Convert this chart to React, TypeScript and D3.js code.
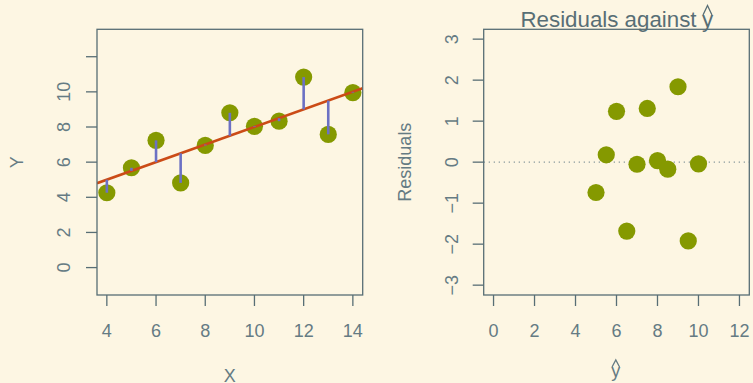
import React from "react";
import * as d3 from "d3";

// Anscombe's first data set
const xValues = [10, 8, 13, 9, 11, 14, 6, 4, 12, 7, 5];
const yValues = [8.04, 6.95, 7.58, 8.81, 8.33, 9.96, 7.24, 4.26, 10.84, 4.82, 5.68];

const leftXTicks = [4, 6, 8, 10, 12, 14];
const leftYTicks = [0, 2, 4, 6, 8, 10, 12];
const leftYLabels = ["0", "2", "4", "6", "8", "10", ""];
const rightXTicks = [0, 2, 4, 6, 8, 10, 12];
const rightYTicks = [-3, -2, -1, 0, 1, 2, 3];

const W = 753;
const H = 383;
const BG = "#fdf6e3";
const AXIS = "#586e75";
const TEXT = "#657b83";
const POINT = "#859900";
const FIT = "#cb4b16";
const RESID = "#6c71c4";
const FONT = "'Liberation Sans', Arial, sans-serif";
const FS = 18;
const TITLE_FS = 22.3;

// least-squares fit y = a + b x
const mx = d3.mean(xValues) as number;
const my = d3.mean(yValues) as number;
const sxy = d3.sum(xValues, (x, i) => (x - mx) * (yValues[i] - my));
const sxx = d3.sum(xValues, (x) => (x - mx) * (x - mx));
const slope = sxy / sxx;
const intercept = my - slope * mx;
const fitted = xValues.map((x) => intercept + slope * x);
const residuals = yValues.map((y, i) => y - fitted[i]);

const padded = (lo: number, hi: number): [number, number] => {
  const e = (hi - lo) * 0.04;
  return [lo - e, hi + e];
};

const leftBox = { x0: 97, x1: 362.7, y0: 29.3, y1: 295 };
const rightBox = { x0: 483.7, x1: 749.3, y0: 29.3, y1: 295 };

const lx = d3.scaleLinear().domain(padded(4, 14)).range([leftBox.x0, leftBox.x1]);
const ly = d3.scaleLinear().domain(padded(-1, 13)).range([leftBox.y1, leftBox.y0]);
const rx = d3.scaleLinear().domain(padded(0, 12)).range([rightBox.x0, rightBox.x1]);
const ry = d3.scaleLinear().domain(padded(-3, 3)).range([rightBox.y1, rightBox.y0]);

const fmt = (v: number) => (v < 0 ? "\u2212" + Math.abs(v) : String(v));

function Hat({ cx, top, w, h, color }: { cx: number; top: number; w: number; h: number; color: string }) {
  return (
    <path
      d={`M${cx - w / 2},${top + h} L${cx},${top} L${cx + w / 2},${top + h}`}
      fill="none"
      stroke={color}
      strokeWidth={1.3}
    />
  );
}

function Box({ b }: { b: typeof leftBox }) {
  return (
    <rect
      x={b.x0}
      y={b.y0}
      width={b.x1 - b.x0}
      height={b.y1 - b.y0}
      fill="none"
      stroke={AXIS}
      strokeWidth={1.3}
    />
  );
}

export default function App() {
  const fitLine = d3
    .line<number>()
    .x((x) => lx(x))
    .y((x) => ly(intercept + slope * x));
  const [dx0, dx1] = lx.domain();

  return (
    <div style={{ position: "fixed", left: 0, top: 0, width: W, height: H }}>
      <svg width={W} height={H} style={{ display: "block" }} fontFamily={FONT}>
        <rect width={W} height={H} fill={BG} />
        <defs>
          <clipPath id="leftClip">
            <rect x={leftBox.x0} y={leftBox.y0} width={leftBox.x1 - leftBox.x0} height={leftBox.y1 - leftBox.y0} />
          </clipPath>
          <clipPath id="rightClip">
            <rect x={rightBox.x0} y={rightBox.y0} width={rightBox.x1 - rightBox.x0} height={rightBox.y1 - rightBox.y0} />
          </clipPath>
        </defs>

        {/* Left panel: scatter with fitted line */}
        <g>
          {xValues.map((x, i) => (
            <circle key={i} cx={lx(x)} cy={ly(yValues[i])} r={8.6} fill={POINT} />
          ))}
          <path
            d={fitLine([dx0, dx1]) as string}
            stroke={FIT}
            strokeWidth={2.6}
            fill="none"
            clipPath="url(#leftClip)"
          />
          {xValues.map((x, i) => (
            <line
              key={i}
              x1={lx(x)}
              x2={lx(x)}
              y1={ly(fitted[i])}
              y2={ly(yValues[i])}
              stroke={RESID}
              strokeWidth={2.6}
            />
          ))}
          <Box b={leftBox} />
          {leftXTicks.map((t) => (
            <g key={t}>
              <line x1={lx(t)} x2={lx(t)} y1={leftBox.y1} y2={leftBox.y1 + 11} stroke={AXIS} strokeWidth={1.3} />
              <text x={lx(t)} y={337} textAnchor="middle" fontSize={FS} fill={TEXT}>
                {t}
              </text>
            </g>
          ))}
          {leftYTicks.map((t, i) => (
            <g key={t}>
              <line x1={leftBox.x0 - 11} x2={leftBox.x0} y1={ly(t)} y2={ly(t)} stroke={AXIS} strokeWidth={1.3} />
              <text
                transform={`translate(70,${ly(t)}) rotate(-90)`}
                textAnchor="middle"
                fontSize={FS}
                fill={TEXT}
              >
                {leftYLabels[i]}
              </text>
            </g>
          ))}
          <text x={(leftBox.x0 + leftBox.x1) / 2} y={381.5} textAnchor="middle" fontSize={FS} fill={TEXT}>
            X
          </text>
          <text
            transform={`translate(23,${(leftBox.y0 + leftBox.y1) / 2}) rotate(-90)`}
            textAnchor="middle"
            fontSize={FS}
            fill={TEXT}
          >
            Y
          </text>
        </g>

        {/* Right panel: residuals against fitted values */}
        <g>
          <line
            x1={rightBox.x0}
            x2={rightBox.x1}
            y1={ry(0)}
            y2={ry(0)}
            stroke="#8a9a9e"
            strokeWidth={1.2}
            strokeDasharray="1.3,3.7"
          />
          {fitted.map((f, i) => (
            <circle key={i} cx={rx(f)} cy={ry(residuals[i])} r={8.6} fill={POINT} clipPath="url(#rightClip)" />
          ))}
          <Box b={rightBox} />
          {rightXTicks.map((t) => (
            <g key={t}>
              <line x1={rx(t)} x2={rx(t)} y1={rightBox.y1} y2={rightBox.y1 + 11} stroke={AXIS} strokeWidth={1.3} />
              <text x={rx(t)} y={337} textAnchor="middle" fontSize={FS} fill={TEXT}>
                {t}
              </text>
            </g>
          ))}
          {rightYTicks.map((t) => (
            <g key={t}>
              <line x1={rightBox.x0 - 11} x2={rightBox.x0} y1={ry(t)} y2={ry(t)} stroke={AXIS} strokeWidth={1.3} />
              <text
                transform={`translate(458,${ry(t)}) rotate(-90)`}
                textAnchor="middle"
                fontSize={FS}
                fill={TEXT}
              >
                {fmt(t)}
              </text>
            </g>
          ))}
          <text
            transform={`translate(410.5,${(rightBox.y0 + rightBox.y1) / 2}) rotate(-90)`}
            textAnchor="middle"
            fontSize={FS}
            fill={TEXT}
          >
            Residuals
          </text>
          {/* title: Residuals against y-hat */}
          <text x={520.5} y={26.7} fontSize={TITLE_FS} fill={AXIS}>
            Residuals against
          </text>
          <text x={707.5} y={26.7} textAnchor="middle" fontSize={TITLE_FS} fill={AXIS}>
            y
          </text>
          <Hat cx={707.5} top={5.5} w={9} h={9.5} color={AXIS} />
          {/* x label: y-hat */}
          <text x={615.8} y={377} textAnchor="middle" fontSize={FS} fill={TEXT}>
            y
          </text>
          <Hat cx={615.8} top={360} w={7.5} h={7} color={TEXT} />
        </g>
      </svg>
    </div>
  );
}
